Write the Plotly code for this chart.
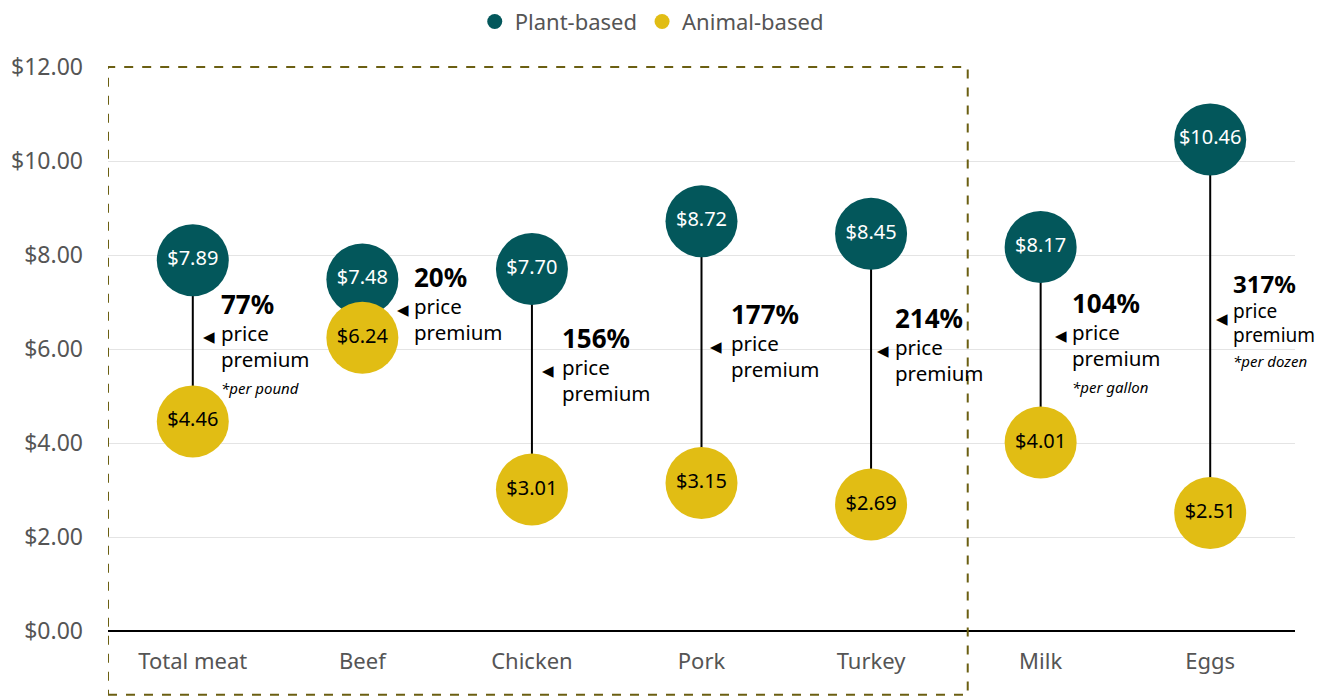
import plotly.graph_objects as go

# Retail prices, plant-based vs animal-based equivalents
categories = ["Total meat", "Beef", "Chicken", "Pork", "Turkey", "Milk", "Eggs"]
plant_price = [7.89, 7.48, 7.70, 8.72, 8.45, 8.17, 10.46]
animal_price = [4.46, 6.24, 3.01, 3.15, 2.69, 4.01, 2.51]
footnotes = ["*per pound", "", "", "", "", "*per gallon", "*per dozen"]
y_ticks = [0, 2, 4, 6, 8, 10, 12]

PLANT = "#03575B"
ANIMAL = "#E1BD14"
GREY = "#555555"
FONT = "Noto Sans"

# Where each premium callout sits (data y of the pointer, pixel offsets in x)
callout_y = [6.255, 6.83, 5.53, 6.04, 5.96, 6.28, 6.64]
pointer_dx = [16, 41, 16, 14, 12, 20, 12]
text_dx = [26, 50, 28, 27, 22, 29, 21]

x = list(range(len(categories)))
premium = [round((p / a - 1) * 100) for p, a in zip(plant_price, animal_price)]

fig = go.Figure()

# Connector stems
stem_x, stem_y = [], []
for i, p, a in zip(x, plant_price, animal_price):
    stem_x += [i, i, None]
    stem_y += [p, a, None]
fig.add_trace(go.Scatter(x=stem_x, y=stem_y, mode="lines",
                         line=dict(color="black", width=2),
                         hoverinfo="skip", showlegend=False))

fig.add_trace(go.Scatter(
    x=x, y=plant_price, mode="markers+text",
    marker=dict(size=72, color=PLANT, line=dict(width=0)),
    text=[f"${v:.2f}" for v in plant_price], textposition="middle center",
    textfont=dict(family=FONT, size=20, color="white"),
    showlegend=False, name="Plant-based"))

fig.add_trace(go.Scatter(
    x=x, y=animal_price, mode="markers+text",
    marker=dict(size=72, color=ANIMAL, line=dict(width=0)),
    text=[f"${v:.2f}" for v in animal_price], textposition="middle center",
    textfont=dict(family=FONT, size=20, color="black"),
    showlegend=False, name="Animal-based"))

# Legend entries
for name, col in [("Plant-based", PLANT), ("Animal-based", ANIMAL)]:
    fig.add_trace(go.Scatter(x=[None], y=[None], mode="markers",
                             marker=dict(size=15, color=col), name=name))

# Premium callouts: pointer plus one text block per category
for i in x:
    small = categories[i] == "Eggs"
    cy = callout_y[i]
    fig.add_annotation(x=i, y=cy, xref="x", yref="y", text="◀",
                       showarrow=False, xanchor="center", yanchor="middle",
                       xshift=pointer_dx[i], font=dict(family="DejaVu Sans", size=15, color="black"))
    pct_size = 24 if small else 26
    body_size = 19 if small else 20.5
    lines = [f"<b><span style='font-size:{pct_size}px'>{premium[i]}%</span></b>",
             "price", "premium"]
    if footnotes[i]:
        lines.append(f"<i><span style='font-size:15px'>{footnotes[i]}</span></i>")
    fig.add_annotation(x=i, y=cy, text="<br>".join(lines), showarrow=False,
                       align="left", xanchor="left", yanchor="top",
                       xshift=text_dx[i], yshift=(54 if small else 53),
                       font=dict(family=FONT, size=body_size, color="black"))

# Dashed frame around the meat group
fig.add_shape(type="rect", xref="x", yref="paper", x0=-0.5, x1=4.57, y0=-0.113, y1=1.0,
              line=dict(color="#6B5F12", width=2, dash="dash"), layer="above")

fig.update_layout(
    width=1322, height=696,
    margin=dict(l=108, r=27, t=67, b=65, autoexpand=False),
    plot_bgcolor="white", paper_bgcolor="white",
    font=dict(family=FONT, size=22, color=GREY),
    legend=dict(orientation="h", xref="container", yref="container",
                x=0.493, y=0.999, xanchor="center", yanchor="top",
                font=dict(family=FONT, size=22, color=GREY),
                itemwidth=30, tracegroupgap=0),
    xaxis=dict(range=[-0.5, 6.5], tickvals=x, ticktext=categories,
               showgrid=False, zeroline=False, showline=False, ticks="",
               ticklabelstandoff=15, tickfont=dict(size=22, color=GREY)),
    yaxis=dict(range=[0, 12], tickvals=y_ticks,
               ticktext=[f"${v:.2f}" for v in y_ticks],
               showgrid=True, gridcolor="#E4E4E4", gridwidth=1,
               zeroline=True, zerolinecolor="black", zerolinewidth=2,
               showline=False, ticks="", ticklabelstandoff=24,
               tickfont=dict(size=23, color=GREY)),
)

fig.write_html("out.html")
